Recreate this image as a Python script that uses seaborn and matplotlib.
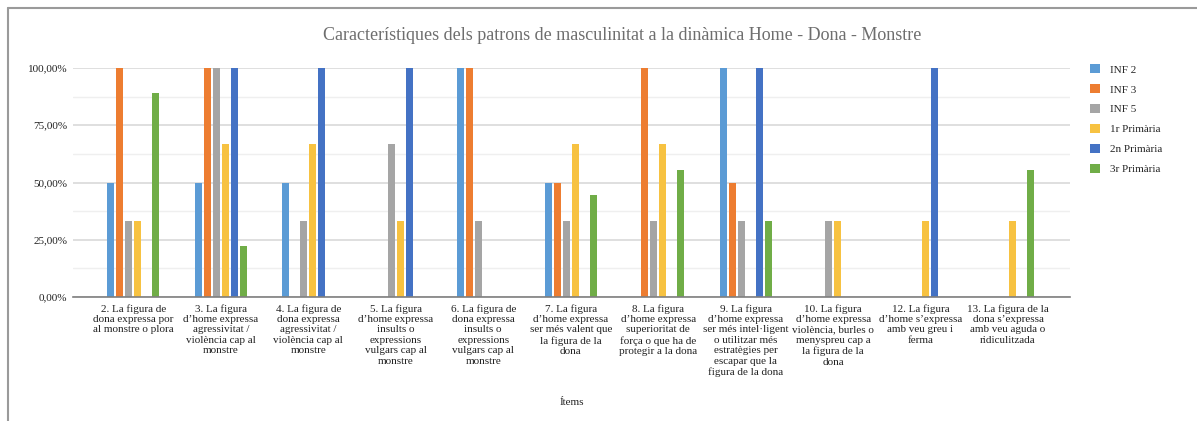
import pandas as pd
import matplotlib
matplotlib.use("Agg")
import matplotlib.pyplot as plt
from matplotlib.lines import Line2D
from matplotlib.ticker import MultipleLocator, FuncFormatter
import seaborn as sns

sns.set_theme(style="white")
plt.rcParams['font.family'] = ['Liberation Serif', 'DejaVu Serif']

# Dades (percentatges)
items = [
    "2. La figura de\ndona expressa por\nal monstre o plora",
    "3. La figura\nd’home expressa\nagressivitat /\nviolència cap al\nmonstre",
    "4. La figura de\ndona expressa\nagressivitat /\nviolència cap al\nmonstre",
    "5. La figura\nd’home expressa\ninsults o\nexpressions\nvulgars cap al\nmonstre",
    "6. La figura de\ndona expressa\ninsults o\nexpressions\nvulgars cap al\nmonstre",
    "7. La figura\nd’home expressa\nser més valent que\nla figura de la\ndona",
    "8. La figura\nd’home expressa\nsuperioritat de\nforça o que ha de\nprotegir a la dona",
    "9. La figura\nd’home expressa\nser més intel·ligent\no utilitzar més\nestratègies per\nescapar que la\nfigura de la dona",
    "10. La figura\nd’home expressa\nviolència, burles o\nmenyspreu cap a\nla figura de la\ndona",
    "12. La figura\nd’home s’expressa\namb veu greu i\nferma",
    "13. La figura de la\ndona s’expressa\namb veu aguda o\nridiculitzada",
]
groups = ["INF 2", "INF 3", "INF 5", "1r Primària", "2n Primària", "3r Primària"]

inf2 = [50, 50, 50, 0, 100, 50, 0, 100, 0, 0, 0]
inf3 = [100, 100, 0, 0, 100, 50, 100, 50, 0, 0, 0]
inf5 = [33.33, 100, 33.33, 66.67, 33.33, 33.33, 33.33, 33.33, 33.33, 0, 0]
prim1 = [33.33, 66.67, 66.67, 33.33, 0, 66.67, 66.67, 0, 33.33, 33.33, 33.33]
prim2 = [0, 100, 100, 100, 0, 0, 0, 100, 0, 100, 0]
prim3 = [88.89, 22.22, 0, 0, 0, 44.44, 55.56, 33.33, 0, 0, 55.56]

colors = ["#5B9BD5", "#ED7D31", "#A5A5A5", "#F7C241", "#4472C4", "#70AD47"]

series = [inf2, inf3, inf5, prim1, prim2, prim3]
rows = []
for g, vals in zip(groups, series):
    for it, v in zip(items, vals):
        rows.append({"item": it, "grup": g, "valor": v / 100})
df = pd.DataFrame(rows)

fig = plt.figure(figsize=(11.97, 4.21), dpi=100)
ax = fig.add_axes([0.061, 0.2945, 0.833, 0.544])

sns.barplot(data=df, x="item", y="valor", hue="grup", order=items, hue_order=groups,
            palette=colors, width=0.62, gap=0.22, linewidth=0, saturation=1,
            errorbar=None, ax=ax)

ax.set_ylim(0, 1)
ax.set_xlim(-0.69, 10.71)
ax.yaxis.set_major_locator(MultipleLocator(0.25))
ax.yaxis.set_minor_locator(MultipleLocator(0.125))
ax.yaxis.set_major_formatter(FuncFormatter(lambda v, p: f"{v*100:.2f}%".replace(".", ",")))
ax.grid(True, axis='y', which='major', color='#d9d9d9', linewidth=1.2)
ax.grid(True, axis='y', which='minor', color='#efefef', linewidth=1.0)
ax.set_axisbelow(True)
for s in ['top', 'right', 'left']:
    ax.spines[s].set_visible(False)
ax.spines['bottom'].set_color('#7f7f7f')
ax.spines['bottom'].set_linewidth(1.2)
ax.tick_params(axis='both', which='both', length=0, labelsize=8, colors='#222222')
ax.tick_params(axis='y', pad=4)
ax.tick_params(axis='x', pad=5)
for lbl in ax.get_xticklabels():
    lbl.set_linespacing(1.2)
    lbl.set_ha('center')

ax.set_ylabel("")
ax.set_xlabel("Ítems", fontsize=8, color='#222222')
ax.xaxis.set_label_coords(0.5, -0.44)

ax.set_title("Característiques dels patrons de masculinitat a la dinàmica Home - Dona - Monstre",
             fontsize=13, color='#6e6e6e', pad=20)
ax.title.set_position((0.551, 1.0))

leg = ax.legend(loc='upper left', bbox_to_anchor=(1.01, 1.06), frameon=False,
                fontsize=8, handlelength=0.9, handleheight=0.9, handletextpad=0.9,
                labelspacing=0.85)

# marc del gràfic
fig.add_artist(Line2D([8 / 1197, 1.0], [1 - 8 / 421, 1 - 8 / 421], color='#9a9a9a', linewidth=1.5))
fig.add_artist(Line2D([8 / 1197, 8 / 1197], [0.0, 1 - 8 / 421], color='#9a9a9a', linewidth=1.5))

fig.savefig("out.png", dpi=100)
plt.close()
